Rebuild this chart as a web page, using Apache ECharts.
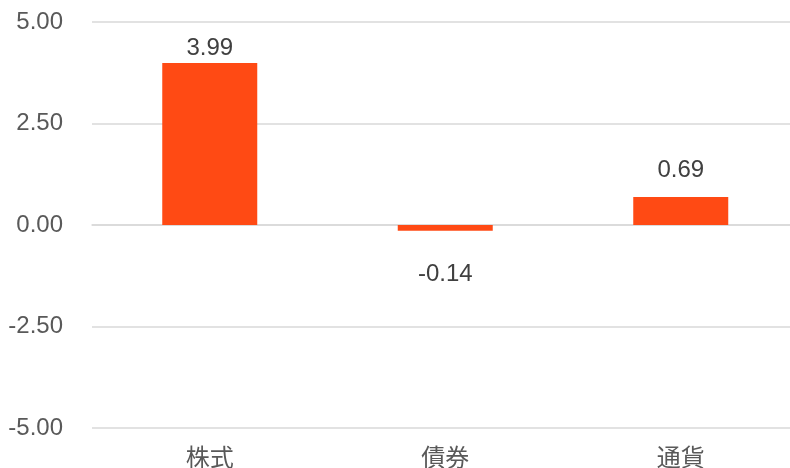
<!DOCTYPE html>
<html>
<head>
<meta charset="utf-8">
<script src="https://cdn.jsdelivr.net/npm/echarts@6/dist/echarts.min.js"></script>
<style>html,body{margin:0;padding:0;background:#fff;}#c{width:790px;height:468px;}</style>
</head>
<body>
<div id="c"></div>
<script>
const categories = ['株式', '債券', '通貨'];
const values = [3.99, -0.14, 0.69];
const labelDistances = [3, 32, 15];
const yTicks = { min: -5, max: 5, interval: 2.5 };

const chart = echarts.init(document.getElementById('c'), null, { renderer: 'canvas' });
chart.setOption({
  animation: false,
  backgroundColor: '#ffffff',
  grid: { left: 92, width: 706.5, top: 22, height: 406, containLabel: false, outerBoundsMode: 'none' },
  xAxis: {
    type: 'category',
    data: categories,
    axisLine: { show: true, onZero: true, lineStyle: { color: '#d9d9d9', width: 1.5 } },
    axisTick: { show: false },
    axisLabel: {
      color: '#595959', fontSize: 24, margin: 17,
      fontFamily: '"Noto Sans CJK JP", sans-serif'
    },
    splitLine: { show: false }
  },
  yAxis: {
    type: 'value',
    min: yTicks.min, max: yTicks.max, interval: yTicks.interval,
    axisLine: { show: false },
    axisTick: { show: false },
    axisLabel: {
      color: '#595959', fontSize: 24, margin: 29,
      padding: [4, 0, 0, 0],
      fontFamily: '"Liberation Sans", Arial, sans-serif',
      formatter: v => v.toFixed(2)
    },
    splitLine: { lineStyle: { color: '#d9d9d9', width: 1.5 } }
  },
  series: [{
    type: 'bar',
    barWidth: 95,
    itemStyle: { color: '#FF4A14' },
    data: values.map((v, i) => ({
      value: v,
      label: {
        show: true,
        position: v < 0 ? 'bottom' : 'top',
        distance: labelDistances[i],
        color: '#404040',
        fontSize: 24,
        fontFamily: '"Liberation Sans", Arial, sans-serif',
        formatter: p => p.value.toFixed(2)
      }
    }))
  }]
});
</script>
</body>
</html>
